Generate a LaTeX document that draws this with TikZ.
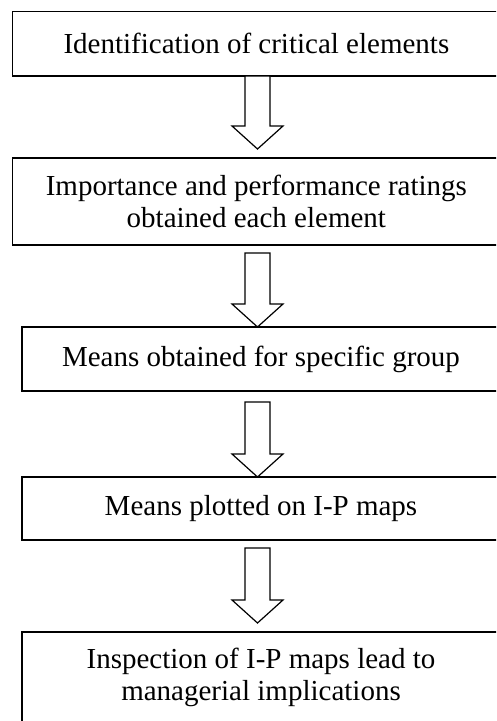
\documentclass[tikz,border=0pt]{standalone}
\usepackage{fontspec}
\setmainfont{Liberation Serif}
\usetikzlibrary{calc}
\definecolor{LineClr}{rgb}{0,0,0}

\newcommand{\BlockArrow}[2]{%
\draw[arrowline] ($(#1)+(-12.5,0)$) -- ($(#2)+(-12.5,-23)$) -- ($(#2)+(-25.5,-23)$) -- (#2)
  -- ($(#2)+(25.5,-23)$) -- ($(#2)+(12.5,-23)$) -- ($(#1)+(12.5,0)$) -- cycle;}

\begin{document}
\begin{tikzpicture}[x=1pt,y=-1pt,
  stepbox/.style={draw=LineClr,line width=1.2pt,rectangle,inner sep=0pt,align=center,
    font=\fontsize{29}{32.5}\selectfont},
  arrowline/.style={draw=LineClr,line width=1.2pt,line join=miter,fill=white}]
\useasboundingbox (0,0) rectangle (496,721);
\clip (0,0) rectangle (496,721);

\node[stepbox,minimum width=487.3pt,minimum height=64.3pt] (B1) at (256.35,43.85) {Identification of critical elements};
\node[stepbox,minimum width=487.3pt,minimum height=87pt] (B2) at (256.35,201.5) {Importance and performance ratings\\ obtained each element};
\node[stepbox,minimum width=478pt,minimum height=64pt] (B3) at (261,359) {Means obtained for specific group};
\node[stepbox,minimum width=478pt,minimum height=63pt] (B4) at (261,508.5) {Means plotted on I-P maps};
\node[stepbox,minimum width=478pt,minimum height=91pt] (B5) at (261,677.5) {Inspection of I-P maps lead to\\ managerial implications};

\coordinate (T1) at (257.5,76);  \coordinate (P1) at (257.5,149);
\coordinate (T2) at (257.5,253); \coordinate (P2) at (257.5,327);
\coordinate (T3) at (257.5,402); \coordinate (P3) at (257.5,477);
\coordinate (T4) at (257.5,548); \coordinate (P4) at (257.5,623);

\BlockArrow{T1}{P1}
\BlockArrow{T2}{P2}
\BlockArrow{T3}{P3}
\BlockArrow{T4}{P4}

\end{tikzpicture}
\end{document}
